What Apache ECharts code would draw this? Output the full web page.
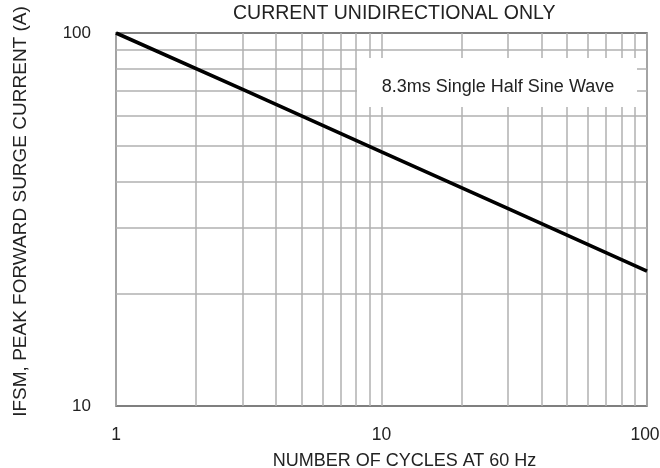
<!DOCTYPE html>
<html>
<head>
<meta charset="utf-8">
<script src="https://cdn.jsdelivr.net/npm/echarts@6/dist/echarts.min.js"></script>
<style>html,body{margin:0;padding:0;background:#fff}#c{width:660px;height:468px}</style>
</head>
<body>
<div id="c"></div>
<script>
// Data (cycles at 60 Hz, peak forward surge current A)
var cycles = [1, 3, 10, 30, 100];
var surgeCurrent = [100, 70.6, 48, 33.8, 23.0];
var xMinorGrid = [2, 3, 4, 5, 6, 7, 8, 9, 20, 30, 40, 50, 60, 70, 80, 90];
var yMinorGrid = [20, 30, 40, 50, 60, 70, 80, 90];
var titleText = 'CURRENT UNIDIRECTIONAL ONLY';
var xName = 'NUMBER OF CYCLES AT 60 Hz';
var yName = 'IFSM, PEAK FORWARD SURGE CURRENT (A)';
var noteText = '8.3ms Single Half Sine Wave';

var FONT = '"Liberation Sans", Arial, sans-serif';
var TXT = '#222';
var GRIDC = '#b0b0b0';

var chart = echarts.init(document.getElementById('c'), null, {renderer: 'canvas'});

var gridLineData = xMinorGrid.map(function (v) { return {xAxis: v}; })
  .concat(yMinorGrid.map(function (v) { return {yAxis: v}; }));

chart.setOption({
  animation: false,
  backgroundColor: '#fff',
  title: {
    text: titleText,
    left: 228,
    top: -1,
    textStyle: {fontFamily: FONT, fontSize: 19.5, fontWeight: 'normal', color: TXT}
  },
  grid: {
    left: 116, right: 13, top: 33, bottom: 62,
    outerBoundsMode: 'none',
    containLabel: false,
    show: true, borderColor: '#555', borderWidth: 1.5, backgroundColor: 'transparent'
  },
  xAxis: {
    type: 'log', logBase: 10, min: 1, max: 100,
    name: xName, nameLocation: 'middle', nameGap: 46,
    nameTextStyle: {fontFamily: FONT, fontSize: 18, color: TXT, padding: [0, 0, 0, 46]},
    axisLine: {show: false}, axisTick: {show: false},
    axisLabel: {fontFamily: FONT, fontSize: 17.5, color: TXT, margin: 20,
      formatter: function (v) { return v === 100 ? '{r|100}' : String(v); },
      rich: {r: {fontFamily: FONT, fontSize: 17.5, color: TXT, padding: [0, 4, 0, 0]}}},
    splitLine: {show: true, lineStyle: {color: GRIDC, width: 1.5}}
  },
  yAxis: {
    type: 'log', logBase: 10, min: 10, max: 100,
    name: yName, nameLocation: 'middle', nameGap: 86,
    nameTextStyle: {fontFamily: FONT, fontSize: 19, color: TXT, padding: [0, 0, 0, 16]},
    axisLine: {show: false}, axisTick: {show: false},
    axisLabel: {fontFamily: FONT, fontSize: 17, color: TXT, margin: 25},
    splitLine: {show: false}
  },
  series: [
    {
      type: 'line',
      data: [],
      silent: true,
      z: 1,
      markLine: {
        silent: true,
        symbol: ['none', 'none'],
        label: {show: false},
        lineStyle: {color: GRIDC, width: 1.5, type: 'solid'},
        animation: false,
        data: gridLineData
      }
    },
    {
      type: 'line',
      data: cycles.map(function (c, i) { return [c, surgeCurrent[i]]; }),
      showSymbol: false,
      symbol: 'none',
      z: 5,
      lineStyle: {color: '#000', width: 3.6},
      silent: true
    }
  ],
  graphic: [
    {
      type: 'rect', z: 10,
      shape: {x: 357, y: 58, width: 280, height: 49},
      style: {fill: '#fff'}
    },
    {
      type: 'text', z: 11,
      x: 498, y: 87,
      style: {text: noteText, fontFamily: FONT, fontSize: 18, fill: TXT, align: 'center', verticalAlign: 'middle'}
    }
  ]
});
</script>
</body>
</html>
